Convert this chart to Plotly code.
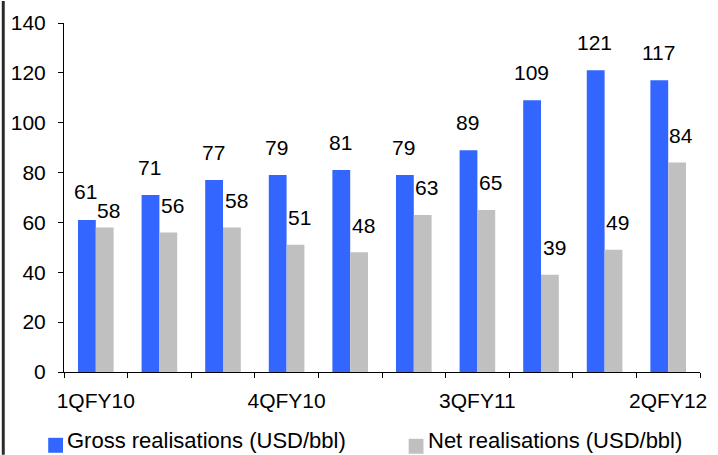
import plotly.graph_objects as go

# Quarterly crude realisations, USD per barrel
quarters = ["1QFY10", "2QFY10", "3QFY10", "4QFY10", "1QFY11",
            "2QFY11", "3QFY11", "4QFY11", "1QFY12", "2QFY12"]
gross = [61, 71, 77, 79, 81, 79, 89, 109, 121, 117]
net = [58, 56, 58, 51, 48, 63, 65, 39, 49, 84]
shown_ticks = ["1QFY10", "4QFY10", "3QFY11", "2QFY12"]

GROSS_NAME = "Gross realisations (USD/bbl)"
NET_NAME = "Net realisations (USD/bbl)"
BLUE = "#3366FF"
GREY = "#C0C0C0"
FONT = "Liberation Sans, Arial, sans-serif"
FS = 21
LEGEND_FS = 22

W, H = 718, 455
L, R, T, B = 63, 11, 22, 83
PW, PH = W - L - R, H - T - B


def px_x(p):
    return (p - L) / PW


def px_y(p):
    return (H - B - p) / PH


fig = go.Figure()
fig.add_trace(go.Bar(x=quarters, y=gross, name=GROSS_NAME, marker_color=BLUE,
                     marker_line_width=0))
fig.add_trace(go.Bar(x=quarters, y=net, name=NET_NAME, marker_color=GREY,
                     marker_line_width=0))

# value labels floating above each bar
annotations = []
for i, q in enumerate(quarters):
    annotations.append(dict(x=q, y=gross[i], text=str(gross[i]), showarrow=False,
                            xshift=-10, yshift=28, yanchor="middle",
                            font=dict(family=FONT, size=FS, color="black")))
    lift = 17 if i == 0 else 27
    annotations.append(dict(x=q, y=net[i], text=str(net[i]), showarrow=False,
                            xshift=13, yshift=lift, yanchor="middle",
                            font=dict(family=FONT, size=FS, color="black")))

# legend drawn below the axis
shapes = [
    dict(type="rect", xref="paper", yref="paper",
         x0=px_x(47), x1=px_x(62), y0=px_y(453), y1=px_y(438),
         fillcolor=BLUE, line_width=0),
    dict(type="rect", xref="paper", yref="paper",
         x0=px_x(412), x1=px_x(427), y0=px_y(454), y1=px_y(439),
         fillcolor=GREY, line_width=0),
    # dark frame edge on the left
    dict(type="rect", xref="paper", yref="paper",
         x0=px_x(0), x1=px_x(3), y0=px_y(H), y1=px_y(0),
         fillcolor="#2a2a2a", line_width=0),
]
annotations.append(dict(xref="paper", yref="paper", x=px_x(65), y=px_y(441),
                        xanchor="left", yanchor="middle", showarrow=False,
                        text=GROSS_NAME, borderpad=0,
                        font=dict(family=FONT, size=LEGEND_FS, color="black")))
annotations.append(dict(xref="paper", yref="paper", x=px_x(431), y=px_y(441),
                        xanchor="left", yanchor="middle", showarrow=False,
                        text=NET_NAME, borderpad=0,
                        font=dict(family=FONT, size=LEGEND_FS, color="black")))

fig.update_layout(
    width=W, height=H,
    margin=dict(l=L, r=R, t=T, b=B),
    paper_bgcolor="white", plot_bgcolor="white",
    barmode="group", bargap=0.44, bargroupgap=0,
    showlegend=False,
    font=dict(family=FONT, size=FS, color="black"),
    annotations=annotations,
    shapes=shapes,
)
fig.update_xaxes(
    type="category",
    tickmode="array", tickvals=quarters,
    ticktext=[q if q in shown_ticks else "" for q in quarters],
    tickangle=0,
    tickson="boundaries", ticks="outside", ticklen=5, tickcolor="black",
    showline=True, linecolor="black", linewidth=1,
    showgrid=False, zeroline=False,
    tickfont=dict(family=FONT, size=FS, color="black"),
    ticklabelstandoff=10,
)
fig.update_yaxes(
    range=[0, 140], dtick=20,
    ticks="outside", ticklen=5, tickcolor="black",
    showline=True, linecolor="black", linewidth=1,
    showgrid=False, zeroline=False,
    tickfont=dict(family=FONT, size=FS, color="black"),
    ticklabelstandoff=8,
)

fig.write_html("out.html")
